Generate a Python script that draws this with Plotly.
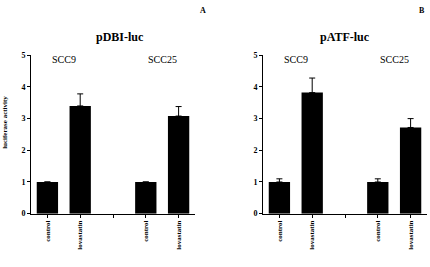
import plotly.graph_objects as go

categories = ["control", "lovastatin", "", "control", "lovastatin"]
cell_lines = ["SCC9", "SCC25"]

dbi_values = [1.0, 3.4, 1.0, 3.08]
dbi_errors = [None, 0.38, None, 0.30]

atf_values = [1.0, 3.82, 1.0, 2.72]
atf_errors = [0.1, 0.46, 0.1, 0.28]

panel_titles = ["pDBI-luc", "pATF-luc"]
panel_letters = ["A", "B"]
y_label = "luciferase activity"
y_ticks = [0, 1, 2, 3, 4, 5]

FONT = "Liberation Serif, Times New Roman, serif"
bar_x = [i for i, c in enumerate(categories) if c]

fig = go.Figure()
for k, (vals, errs) in enumerate([(dbi_values, dbi_errors), (atf_values, atf_errors)]):
    suffix = "" if k == 0 else "2"
    fig.add_trace(go.Bar(
        x=bar_x, y=vals, width=0.65,
        marker=dict(color="black", line=dict(width=0)),
        error_y=dict(type="data", array=errs, arrayminus=[0] * len(errs), symmetric=False,
                     color="black", thickness=1, width=3),
        xaxis="x" + suffix, yaxis="y" + suffix, showlegend=False, hoverinfo="skip",
    ))

ydom = [50 / 267, 214 / 267]
axis_common = dict(showline=True, linecolor="black", linewidth=1, showgrid=False, zeroline=False,
                   ticks="outside", ticklen=3, tickcolor="black",
                   tickfont=dict(family=FONT, size=7, color="black", weight="bold"))
xcommon = dict(axis_common, tickvals=list(range(len(categories))), ticktext=categories,
               tickangle=-90, range=[-0.5, 4.5])
ycommon = dict(axis_common, range=[0, 5], tickvals=y_ticks, domain=ydom,
               tickfont=dict(family=FONT, size=8, color="black", weight="bold"))

fig.update_layout(
    width=430, height=267, margin=dict(l=0, r=0, t=0, b=0),
    paper_bgcolor="white", plot_bgcolor="white", bargap=0.3,
    xaxis=dict(xcommon, domain=[31 / 430, 195 / 430], anchor="y"),
    yaxis=dict(ycommon, anchor="x"),
    xaxis2=dict(xcommon, domain=[263 / 430, 427 / 430], anchor="y2"),
    yaxis2=dict(ycommon, anchor="x2"),
)

ann = [dict(text=y_label, x=5 / 430, y=1 - 123 / 267, xref="paper", yref="paper", textangle=-90,
            xanchor="center", yanchor="middle", showarrow=False,
            font=dict(family=FONT, size=7, color="black", weight="bold"))]
title_x = [120 / 430, 345 / 430]
letter_x = [203 / 430, 422 / 430]
for k in range(2):
    ann.append(dict(text=panel_titles[k], x=title_x[k], y=1 - 34 / 267, xref="paper", yref="paper",
                    xanchor="center", yanchor="middle", showarrow=False,
                    font=dict(family=FONT, size=12, color="black", weight="bold")))
    ann.append(dict(text=panel_letters[k], x=letter_x[k], y=1 - 7 / 267, xref="paper", yref="paper",
                    xanchor="center", yanchor="middle", showarrow=False,
                    font=dict(family=FONT, size=8, color="black", weight="bold")))
    suffix = "" if k == 0 else "2"
    for j, name in enumerate(cell_lines):
        ann.append(dict(text=name, x=(bar_x[2 * j] + bar_x[2 * j + 1]) / 2, y=4.88,
                        xref="x" + suffix, yref="y" + suffix, xanchor="center", yanchor="middle",
                        showarrow=False, font=dict(family=FONT, size=10, color="black")))
fig.update_layout(annotations=ann)

fig.write_html("out.html", config={"displayModeBar": False},
               post_script="document.body.style.margin='0';")
